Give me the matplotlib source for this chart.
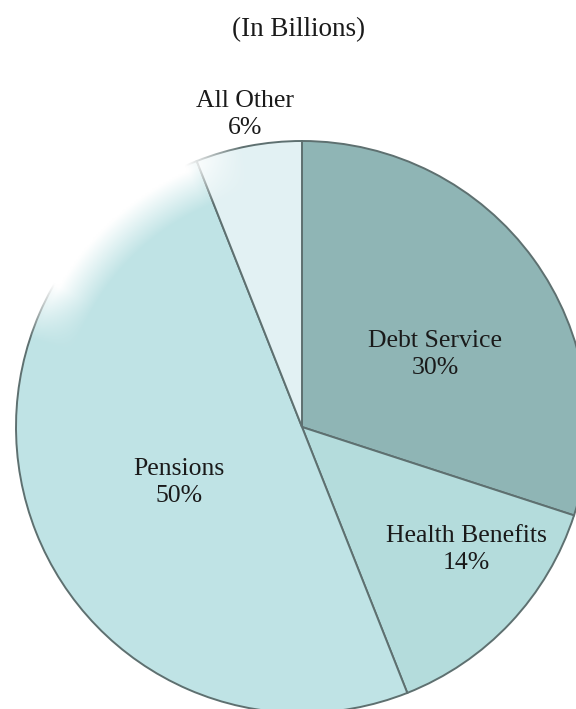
#!/usr/bin/env python

import numpy as np
import matplotlib as mpl
from matplotlib import pyplot as plt

# data
categories = ['Debt Service', 'Health Benefits', 'Pensions', 'All Other']
shares = [30, 14, 50, 6]
colors = ['#8fb5b5', '#b4dcdc', '#bfe3e5', '#e2f1f3']
label_radius = [0.53, 0.715, 0.47, 1.11]
label_turn = [-7.3, 6.5, 2.6, -0.5]   # degrees off the wedge middle

title = '(In Billions)'


def main():
    mpl.rcParams.update({'font.family': ['Liberation Serif', 'DejaVu Serif']})

    fig = plt.figure(figsize=(5.76, 7.09), dpi=100)
    W, H = 576.0, 709.0

    # pie centre and radius in pixels (pie runs off the right and bottom)
    cx, cy, r = 302.0, 427.0, 286.0
    ax = fig.add_axes([(cx - r) / W, (H - cy - r) / H, 2 * r / W, 2 * r / H])

    wedges, _ = ax.pie(shares, colors=colors, startangle=90, counterclock=False,
                       radius=1.0, center=(0, 0), frame=False,
                       wedgeprops={'edgecolor': '#5e7070', 'linewidth': 1.4})
    for w in wedges:
        w.set_clip_on(False)

    # pie() resets the limits, so set them afterwards
    ax.set_xlim(-1.1, 1.1)
    ax.set_ylim(-1.1, 1.1)
    ax.set_position([(cx - 1.1 * r) / W, (H - cy - 1.1 * r) / H,
                     2.2 * r / W, 2.2 * r / H])
    ax.set_aspect('equal')
    ax.axis('off')

    # rim washed out in the upper left, as in the scanned original
    gx, gy = np.meshgrid(np.linspace(-1.1, 1.1, 400), np.linspace(-1.1, 1.1, 400))
    rr = np.hypot(gx, gy)
    ang = np.degrees(np.arctan2(gy, gx))
    a_w = np.clip(1 - np.maximum(np.abs(ang - 132) - 18, 0) / 12, 0, 1)
    r_w = np.clip((rr - 0.84) / 0.14, 0, 1)
    overlay = np.ones((400, 400, 4))
    overlay[..., 3] = a_w * r_w
    ax.imshow(overlay, extent=(-1.1, 1.1, -1.1, 1.1), origin='lower', zorder=3,
              interpolation='bilinear')

    # labels near the middle of each wedge
    for w, name, pct, rad, turn in zip(wedges, categories, shares,
                                        label_radius, label_turn):
        mid = np.deg2rad((w.theta1 + w.theta2) / 2.0 + turn)
        ax.text(rad * np.cos(mid), rad * np.sin(mid), '%s\n%d%%' % (name, pct),
                ha='center', va='center', fontsize=18.5, color='#1a1a1a',
                linespacing=1.3, clip_on=False, zorder=5)

    fig.text(299 / W, 1 - 30 / H, title, ha='center', va='center',
             fontsize=19.5, color='#1a1a1a')

    fig.savefig('out.png', dpi=100)


if __name__ == '__main__':
    main()
